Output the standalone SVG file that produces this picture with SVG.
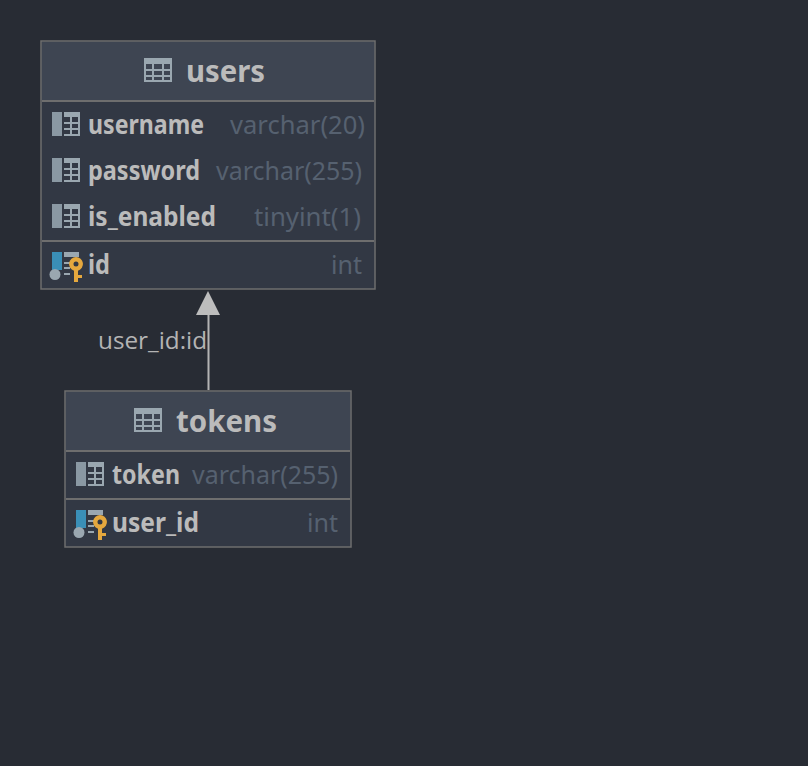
<svg xmlns="http://www.w3.org/2000/svg" width="808" height="766" viewBox="0 0 808 766">
<style>
.box{fill:#323844;stroke:#6e6e6e;stroke-width:1.5}
.head{fill:#3e4552}
.sep{stroke:#6e6e6e;stroke-width:2;fill:none}
.title{font:700 31px "Noto Sans",sans-serif;fill:#bbbbbb}
.col{font:700 26px "Noto Sans",sans-serif;fill:#bbbbbb}
.type{font:400 26px "Noto Sans",sans-serif;fill:#566170}
.lbl{font:400 24px "Open Sans",sans-serif;fill:#b4b4b4}
.ic{fill:#9aa7b0}
.ic2{fill:#8a98a3}
</style>
<defs>
<g id="tbl"><path class="ic" fill-rule="evenodd" d="M0 0h28v24H0zM2 6v5h6V6zM10 6v5h8V6zM20 6v5h6V6zM2 13v4h6v-4zM10 13v4h8v-4zM20 13v4h6v-4zM2 19v3h6v-3zM10 19v3h8v-3zM20 19v3h6v-3z"/></g>
<g id="col"><rect class="ic2" width="10" height="24"/><path class="ic" d="M12 0h16v5H12zM18 5h2v19h-2zM26 5h2v19h-2zM12 10h16v2H12zM12 16h16v2H12zM12 22h16v2H12z"/></g>
<g id="key"><rect x="2" width="10" height="18" fill="#3a8fb7"/><circle cx="5" cy="22.500" r="5.500" fill="#9aa7b0"/><path fill="#9aa7b0" d="M14 0h15v5H14zM14 10h6v2h-6zM14 15h6v2h-6zM14 21h6v2h-6z"/><path fill="#e5a83e" fill-rule="evenodd" d="M26 5a7 7 0 0 1 2 13.700V23h4v3h-4v4h-4V18.700A7 7 0 0 1 26 5zM26 9.500a2.500 2.500 0 1 0 0 5 2.500 2.500 0 0 0 0-5z"/></g>
</defs>
<rect width="808" height="766" fill="#282c34"/>
<g id="connectors">
<path d="M208.500 390V310" stroke="#b4b4b4" stroke-width="2" fill="none"/>
<path d="M208 291L220 315H196z" fill="#bdbdbd"/>
<text class="lbl" x="98" y="349" textLength="109" lengthAdjust="spacingAndGlyphs">user_id:id</text>
</g>
<g id="users">
<rect class="box" x="41" y="41" width="334" height="248"/>
<rect class="head" x="42" y="42" width="332" height="58"/>
<path class="sep" d="M42 101H374M42 241H374"/>
<use href="#tbl" x="144" y="58"/>
<text class="title" x="186" y="82" textLength="79" lengthAdjust="spacingAndGlyphs">users</text>
<use href="#col" x="52" y="112"/>
<text class="col" x="88" y="134" textLength="116" lengthAdjust="spacingAndGlyphs">username</text>
<text class="type" x="230" y="134" textLength="135" lengthAdjust="spacingAndGlyphs">varchar(20)</text>
<use href="#col" x="52" y="158"/>
<text class="col" x="88" y="180" textLength="112" lengthAdjust="spacingAndGlyphs">password</text>
<text class="type" x="216" y="180" textLength="146" lengthAdjust="spacingAndGlyphs">varchar(255)</text>
<use href="#col" x="52" y="204"/>
<text class="col" x="88" y="226" textLength="128" lengthAdjust="spacingAndGlyphs">is_enabled</text>
<text class="type" x="254" y="226" textLength="107" lengthAdjust="spacingAndGlyphs">tinyint(1)</text>
<use href="#key" x="50" y="252"/>
<text class="col" x="88" y="274" textLength="22" lengthAdjust="spacingAndGlyphs">id</text>
<text class="type" x="331" y="274" textLength="31" lengthAdjust="spacingAndGlyphs">int</text>
</g>
<g id="tokens">
<rect class="box" x="65" y="391" width="286" height="156"/>
<rect class="head" x="66" y="392" width="284" height="58"/>
<path class="sep" d="M66 451H350M66 499H350"/>
<use href="#tbl" x="134" y="408"/>
<text class="title" x="176" y="432" textLength="101" lengthAdjust="spacingAndGlyphs">tokens</text>
<use href="#col" x="76" y="462"/>
<text class="col" x="112" y="484" textLength="68" lengthAdjust="spacingAndGlyphs">token</text>
<text class="type" x="192" y="484" textLength="146" lengthAdjust="spacingAndGlyphs">varchar(255)</text>
<use href="#key" x="74" y="510"/>
<text class="col" x="112" y="532" textLength="87" lengthAdjust="spacingAndGlyphs">user_id</text>
<text class="type" x="307" y="532" textLength="31" lengthAdjust="spacingAndGlyphs">int</text>
</g>
</svg>
